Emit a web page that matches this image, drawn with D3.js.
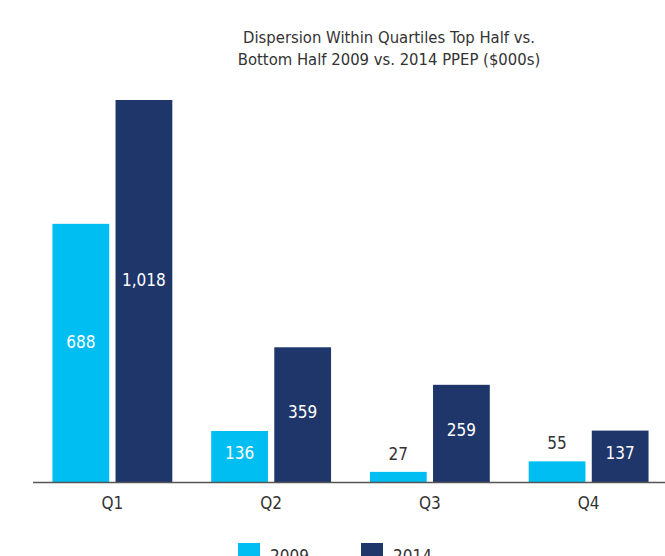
<!DOCTYPE html>
<html>
<head>
<meta charset="utf-8">
<script src="https://cdn.jsdelivr.net/npm/d3@7"></script>
<style>
  body { margin: 0; background: #fff; }
  text { font-family: "DejaVu Sans Condensed", "Liberation Sans Narrow", sans-serif; }
</style>
</head>
<body>
<svg width="665" height="556"></svg>
<script>
(function() {
    const svg = d3.select('svg');
    const width  = +svg.attr('width');

    const quarters = ['Q1', 'Q2', 'Q3', 'Q4'];
    const years = ['2009', '2014'];
    const values2009 = [688, 136, 27, 55];
    const values2014 = [1018, 359, 259, 137];
    const titleLines = ['Dispersion Within Quartiles Top Half vs.', 'Bottom Half 2009 vs. 2014 PPEP ($000s)'];

    const color = d3.scaleOrdinal().domain(years).range(['#00bef2', '#1f366b']);

    const baseY = 482;
    const x0 = d3.scaleBand().domain(quarters).range([33, 668]).paddingInner(0.245).paddingOuter(0.1225);
    const x1 = d3.scaleBand().domain(years).range([0, x0.bandwidth()]).paddingInner(0.1);
    const y = d3.scaleLinear().domain([0, 1018]).range([baseY, 100]);

    const rows = quarters.map((q, i) => ({
        q: q,
        bars: [
            { year: '2009', value: values2009[i] },
            { year: '2014', value: values2014[i] }
        ]
    }));

    // title
    svg.append('g')
        .selectAll('text')
        .data(titleLines)
        .enter()
        .append('text')
        .attr('x', 389)
        .attr('y', (d, i) => 43 + i * 22)
        .attr('text-anchor', 'middle')
        .attr('font-size', 16.5)
        .attr('fill', '#333')
        .text(d => d);

    const group = svg.append('g')
        .selectAll('g.group')
        .data(rows)
        .enter()
        .append('g')
        .attr('class', 'group')
        .attr('transform', d => `translate(${x0(d.q)},0)`);

    group.selectAll('rect')
        .data(d => d.bars)
        .enter()
        .append('rect')
        .attr('x', d => x1(d.year))
        .attr('width', x1.bandwidth())
        .attr('y', d => y(d.value))
        .attr('height', d => baseY - y(d.value))
        .attr('fill', d => color(d.year));

    group.selectAll('text.val')
        .data(d => d.bars)
        .enter()
        .append('text')
        .attr('class', 'val')
        .attr('x', d => x1(d.year) + x1.bandwidth() / 2)
        .attr('y', d => {
            const h = baseY - y(d.value);
            if (h < 30) return y(d.value) - 17;
            return y(d.value) + h / 2 - (h > 200 ? 10 : 2);
        })
        .attr('text-anchor', 'middle')
        .attr('dominant-baseline', 'middle')
        .attr('font-size', 17)
        .attr('fill', d => (baseY - y(d.value)) < 30 ? '#333' : '#fff')
        .text(d => d3.format(',')(d.value));

    // axis
    const axis = svg.append('g')
        .attr('transform', `translate(0,${baseY})`)
        .call(d3.axisBottom(x0).tickSize(0).tickPadding(15));
    axis.select('.domain').remove();
    axis.selectAll('text')
        .attr('font-size', 17)
        .attr('fill', '#333')
        .style('font-family', '"DejaVu Sans Condensed", sans-serif');
    svg.append('line')
        .attr('x1', 33).attr('x2', width)
        .attr('y1', baseY + 0.5).attr('y2', baseY + 0.5)
        .attr('stroke', '#555')
        .attr('stroke-width', 1.5);

    // legend
    const legend = svg.append('g')
        .selectAll('g')
        .data(years)
        .enter()
        .append('g')
        .attr('transform', (d, i) => `translate(${238 + i * 123},543)`);
    legend.append('rect')
        .attr('width', 22)
        .attr('height', 22)
        .attr('fill', d => color(d));
    legend.append('text')
        .attr('x', 32)
        .attr('y', 19)
        .attr('font-size', 17)
        .attr('fill', '#333')
        .text(d => d);
})();
</script>
</body>
</html>
